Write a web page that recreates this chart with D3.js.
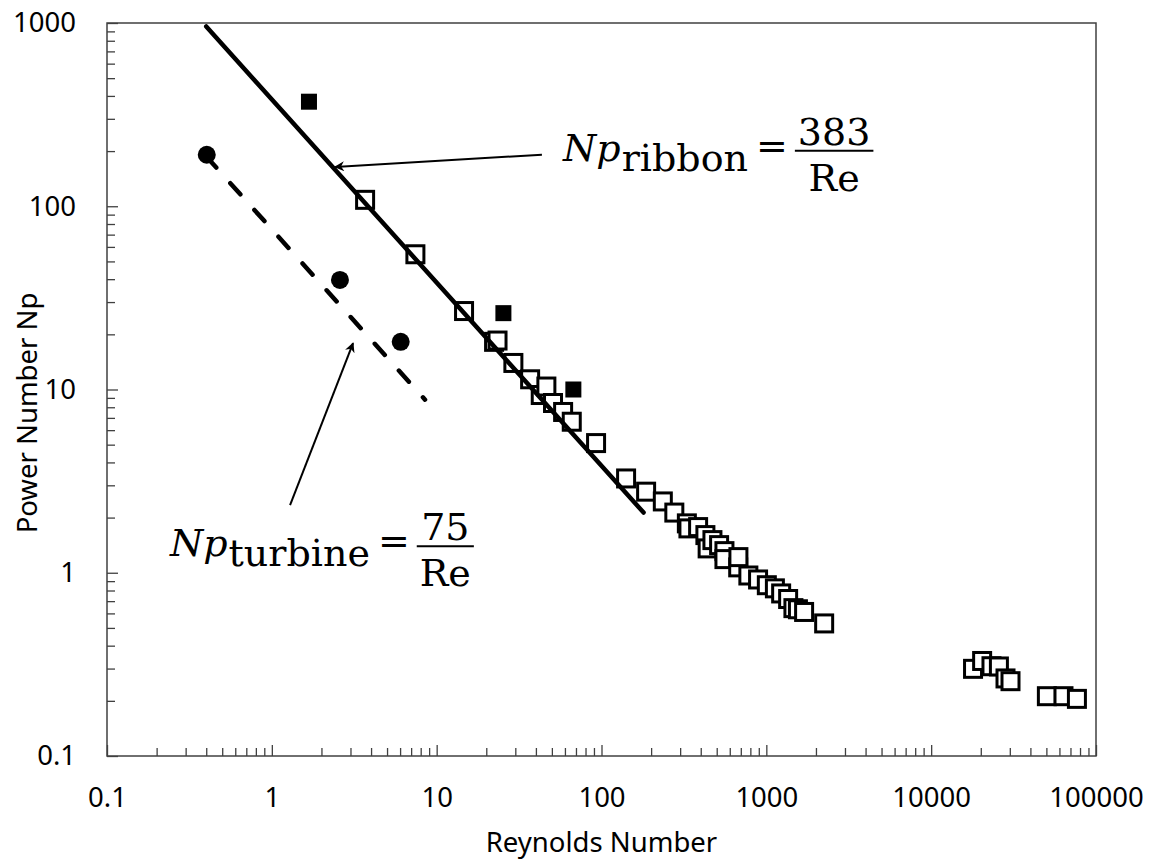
<!DOCTYPE html>
<html>
<head>
<meta charset="utf-8">
<script src="https://cdn.jsdelivr.net/npm/d3@7/dist/d3.min.js"></script>
<style>
  body { margin: 0; background: #fff; }
  text { font-family: "Noto Sans", sans-serif; }
</style>
</head>
<body>
<svg id="chart"></svg>
<script>
// open squares: ribbon impeller measurements
var ribbonRe = [3.68, 7.43, 14.66, 22.3, 23.4, 29.2, 36.9, 42.8, 46.3, 50.8, 58.5, 66.0, 92.7,
  141, 186.5, 235.5, 276.6, 329.5, 336.8, 385.6, 426.9, 440.5, 471, 517, 557, 557, 675, 677,
  778, 891, 1007, 1127, 1230, 1356, 1460, 1555, 1695, 2243,
  17950, 20380, 23220, 25760, 28250, 30290, 50350, 63500, 76600];
var ribbonNp = [108.4, 54.7, 26.8, 18.2, 18.5, 13.96, 11.37, 9.33, 10.38, 8.44, 7.54, 6.67, 5.10,
  3.27, 2.77, 2.45, 2.13, 1.86, 1.746, 1.775, 1.605, 1.358, 1.507, 1.415, 1.312, 1.187, 1.07, 1.217,
  0.966, 0.919, 0.855, 0.822, 0.771, 0.719, 0.641, 0.632, 0.611, 0.529,
  0.299, 0.330, 0.309, 0.308, 0.265, 0.256, 0.212, 0.212, 0.205];

// filled squares
var filledRe = [1.68, 25.4, 67.5];
var filledNp = [372, 26.1, 10.0];

// filled circles: turbine
var turbineRe = [0.403, 2.59, 6.05];
var turbineNp = [191, 39.6, 18.2];

// fitted lines (end points)
var ribbonFitRe = [0.4, 180];
var ribbonFitNp = [957, 2.13];
var turbineFitRe = [0.4, 8.5];
var turbineFitNp = [187, 8.8];

// annotation arrows, [Re, Np] from -> to
var ribbonArrow = [[43.5, 191], [2.42, 164]];
var turbineArrow = [[1.29, 2.34], [3.11, 17.9]];

var xTickLabels = ["0.1", "1", "10", "100", "1000", "10000", "100000"];
var yTickLabels = ["0.1", "1", "10", "100", "1000"];

var width = 1156, height = 862;
var margin = {left: 107, right: 60, top: 23, bottom: 106};

var svg = d3.select("#chart").attr("width", width).attr("height", height);

var x = d3.scaleLog().domain([0.1, 100000]).range([margin.left, width - margin.right]);
var y = d3.scaleLog().domain([0.1, 1000]).range([height - margin.bottom, margin.top]);

var axisColor = "#404040";

// minor and major ticks
var xMajor = xTickLabels.map(Number);
var yMajor = yTickLabels.map(Number);
var xMinor = x.ticks().filter(function(d){ return xMajor.indexOf(d) < 0; });
var yMinor = y.ticks().filter(function(d){ return yMajor.indexOf(d) < 0; });

var gx = svg.append("g").attr("transform", "translate(0," + y.range()[0] + ")");
gx.call(d3.axisBottom(x).tickValues(xMinor).tickSize(-8).tickFormat(""));
gx.append("g").call(d3.axisBottom(x).tickValues(xMajor).tickSize(-11).tickPadding(31)
  .tickFormat(function(d, i){ return xTickLabels[i]; }));

var gy = svg.append("g").attr("transform", "translate(" + x.range()[0] + ",0)");
gy.call(d3.axisLeft(y).tickValues(yMinor).tickSize(-8).tickFormat(""));
gy.append("g").call(d3.axisLeft(y).tickValues(yMajor).tickSize(-11).tickPadding(31)
  .tickFormat(function(d, i){ return yTickLabels[i]; }));

svg.selectAll(".domain").remove();
svg.selectAll(".tick line").attr("stroke", axisColor).attr("stroke-width", 1.3);
svg.selectAll(".tick text").attr("fill", "#000").style("font-size", "27.5px")
  .style("font-family", "'Noto Sans', sans-serif");

// frame
svg.append("rect")
  .attr("x", x.range()[0]).attr("y", y.range()[1])
  .attr("width", x.range()[1] - x.range()[0])
  .attr("height", y.range()[0] - y.range()[1])
  .attr("fill", "none").attr("stroke", axisColor).attr("stroke-width", 1.5);

// axis titles
svg.append("text")
  .attr("x", (x.range()[0] + x.range()[1]) / 2).attr("y", 852)
  .attr("text-anchor", "middle").style("font-size", "27.5px")
  .text("Reynolds Number");
svg.append("text")
  .attr("transform", "translate(37,413) rotate(-90)")
  .attr("text-anchor", "middle").style("font-size", "27.5px")
  .text("Power Number Np");

// open squares
var sq = 17;
svg.append("g").selectAll("rect")
  .data(ribbonRe)
  .enter().append("rect")
  .attr("x", function(d){ return x(d) - sq / 2; })
  .attr("y", function(d, i){ return y(ribbonNp[i]) - sq / 2; })
  .attr("width", sq).attr("height", sq)
  .attr("fill", "#fff").attr("stroke", "#000").attr("stroke-width", 3);

// fit lines
var line = d3.line().x(function(d){ return x(d[0]); }).y(function(d){ return y(d[1]); });
svg.append("path")
  .datum(d3.zip(ribbonFitRe, ribbonFitNp))
  .attr("d", line)
  .attr("fill", "none").attr("stroke", "#000").attr("stroke-width", 4.5)
  .attr("stroke-linecap", "round");
svg.append("path")
  .datum(d3.zip(turbineFitRe, turbineFitNp))
  .attr("d", line)
  .attr("fill", "none").attr("stroke", "#000").attr("stroke-width", 4.5)
  .attr("stroke-linecap", "round").attr("stroke-dasharray", "15,21");

// filled squares
var fs = 16;
svg.append("g").selectAll("rect")
  .data(filledRe)
  .enter().append("rect")
  .attr("x", function(d){ return x(d) - fs / 2; })
  .attr("y", function(d, i){ return y(filledNp[i]) - fs / 2; })
  .attr("width", fs).attr("height", fs)
  .attr("fill", "#000");

// filled circles
svg.append("g").selectAll("circle")
  .data(turbineRe)
  .enter().append("circle")
  .attr("cx", function(d){ return x(d); })
  .attr("cy", function(d, i){ return y(turbineNp[i]); })
  .attr("r", 9).attr("fill", "#000");

// arrows
svg.append("defs").append("marker")
  .attr("id", "head").attr("viewBox", "0 0 10 10")
  .attr("refX", 9).attr("refY", 5)
  .attr("markerWidth", 12).attr("markerHeight", 10)
  .attr("markerUnits", "userSpaceOnUse")
  .attr("orient", "auto")
  .append("path").attr("d", "M0,0 L10,5 L0,10 L3,5 Z").attr("fill", "#000");

[ribbonArrow, turbineArrow].forEach(function(a){
  svg.append("line")
    .attr("x1", x(a[0][0])).attr("y1", y(a[0][1]))
    .attr("x2", x(a[1][0])).attr("y2", y(a[1][1]))
    .attr("stroke", "#000").attr("stroke-width", 2)
    .attr("marker-end", "url(#head)");
});

// formulas  Np_sub = num / Re
function formula(x0, y0, sub, num) {
  var g = svg.append("g").style("font-size", "38px");
  var serif = "'DejaVu Serif', serif";
  var t1 = g.append("text").attr("x", x0).attr("y", y0)
    .style("font-family", serif).style("font-style", "italic").text("Np");
  var w1 = t1.node().getComputedTextLength();
  var t2 = g.append("text").attr("x", x0 + w1 + 1).attr("y", y0 + 10)
    .style("font-family", serif).text(sub);
  var w2 = t2.node().getComputedTextLength();
  var eqX = x0 + w1 + w2 + 9;
  var t3 = g.append("text").attr("x", eqX).attr("y", y0 - 2)
    .style("font-family", serif).text("=");
  var w3 = t3.node().getComputedTextLength();
  var t4 = g.append("text").attr("y", y0 - 16).attr("text-anchor", "middle")
    .style("font-family", serif).text(num);
  var t5 = g.append("text").attr("y", y0 + 30).attr("text-anchor", "middle")
    .style("font-family", serif).text("Re");
  var fw = Math.max(t4.node().getComputedTextLength(), t5.node().getComputedTextLength()) + 6;
  var fx = eqX + w3 + 7;
  t4.attr("x", fx + fw / 2);
  t5.attr("x", fx + fw / 2);
  g.append("line").attr("x1", fx).attr("x2", fx + fw)
    .attr("y1", y0 - 10).attr("y2", y0 - 10)
    .attr("stroke", "#000").attr("stroke-width", 2);
}
formula(x(58.5), y(177), "ribbon", "383");
formula(x(0.241), y(1.23), "turbine", "75");
</script>
</body>
</html>
